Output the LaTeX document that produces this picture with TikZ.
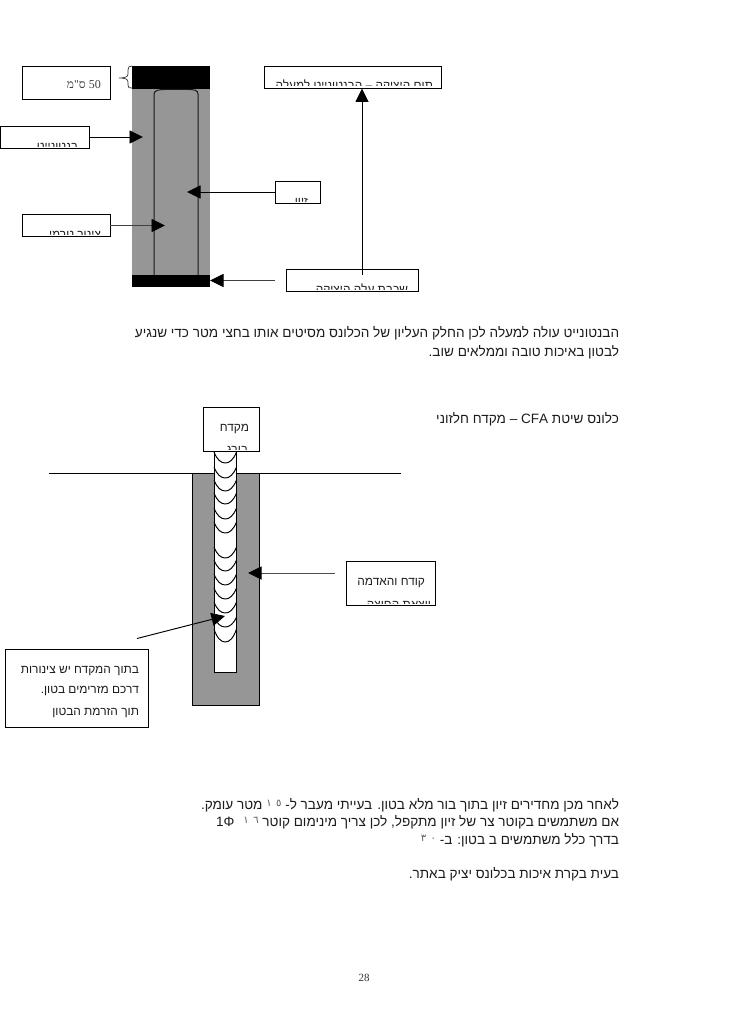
\documentclass[tikz,border=0pt]{standalone}
\usepackage{fontspec}
\usetikzlibrary{arrows.meta}
\TeXXeTstate=1
\setmainfont{Liberation Sans}
\newfontfamily\hebfont[Script=Hebrew]{Liberation Sans}
\newfontfamily\hebserif[Script=Hebrew]{Liberation Serif}
\newfontfamily\arabfont[Script=Arabic]{DejaVu Sans}
\newcommand{\adig}[2]{\beginL\raisebox{3pt}{\arabfont\fontsize{10}{11}\selectfont\textcolor{black!65}{#1\hspace{4.5pt}#2}}\endL}
% name, x1, y1, x2, y2
\newcommand{\tbox}[5]{\node[boxed,minimum width=#4-#2,minimum height=#5-#3] (#1) at ({(#2+#4)/2},{(#3+#5)/2}) {};}
% name, right, baseline, clip x1,y1,x2,y2, text
\newcommand{\cliptext}[8]{\begin{scope}\clip (#4,#5) rectangle (#6,#7);\node[lbl] (#1) at (#2,#3) {\hebfont #8};\end{scope}}
\definecolor{pile}{HTML}{969696}
\definecolor{inktxt}{HTML}{1c1c1c}
\tikzset{
  boxed/.style={draw=black,fill=white,line width=0.95pt,inner sep=0pt,rectangle},
  lbl/.style={anchor=base east,inner sep=0pt,outer sep=0pt,text=inktxt,font=\fontsize{11.9}{13}\selectfont},
  para/.style={anchor=base east,inner sep=0pt,outer sep=0pt,text=inktxt,font=\fontsize{13.55}{15}\selectfont},
  arrowline/.style={draw=black,line width=0.95pt,-{Triangle[length=13.5pt,width=13pt,color=black]}},
  wall/.style={draw=black!90,line width=1pt},
  screw/.style={draw=black,line width=0.95pt}
}
\begin{document}
\begin{tikzpicture}[x=1pt,y=-1pt]
\useasboundingbox (0,0) rectangle (728,1030);
\fill[white] (0,0) rectangle (728,1030);

% ---- upper pile
\fill[pile] (132,89) rectangle (210,275);
\fill[black] (132,66) rectangle (210,89);
\fill[black] (132,275) rectangle (210,287);
\draw[wall] (154,275) -- (154,94) .. controls (154,90) and (160,89.5) .. (165,89.5) -- (188,89.5) .. controls (194,89.5) and (198,90) .. (198,94) -- (198,275);
\draw[black!80,line width=0.7pt] (132,66) .. controls (129,66) and (128,67) .. (128,70) -- (128,74) .. controls (128,77) and (125,78) .. (119,78) .. controls (125,78) and (128,79) .. (128,82) -- (128,85) .. controls (128,88) and (129,88) .. (132,88);

\tbox{b50}{22}{66}{110}{99}
\node[anchor=base east,inner sep=0pt,text=black!75,font=\hebserif\fontsize{12}{14}\selectfont] (t50) at (101,89) {\beginR\beginL 50\endL\ ס"מ\endR};
\tbox{bbent}{0}{126}{89}{148}
\cliptext{tbent}{78}{150}{1}{127}{88}{146}{\beginR בנטונייט\endR}
\tbox{btrem}{22}{214}{110}{236}
\cliptext{ttrem}{101}{238.5}{23}{215}{109}{234}{\beginR צינור טרמי\endR}
\tbox{bzin}{275}{181}{320}{203}
\cliptext{tzin}{308}{205.5}{276}{182}{319}{201}{\beginR זיון\endR}
\tbox{btop}{264}{66}{441}{88}
\cliptext{ttop}{433}{89.5}{265}{67}{440}{86}{\beginR תום היציקה – הבנטונייט למעלה\endR}
\tbox{bbot}{286}{269}{418}{291}
\cliptext{tbot}{408}{293.5}{287}{270}{417}{289}{\beginR שכבת עלה היציקה\endR}

\coordinate (tipbent) at (143,137);
\coordinate (tiptrem) at (165,225.5);
\coordinate (tipzin) at (187,192);
\coordinate (tiptop) at (362,88.5);
\coordinate (startup) at (362,275);
\coordinate (tipbot) at (210,280.5);
\coordinate (startbot) at (275,280.5);
\draw[arrowline] (bbent.east |- tipbent) -- (tipbent);
\draw[arrowline,draw=black!75] (btrem.east |- tiptrem) -- (tiptrem);
\draw[arrowline] (bzin.west |- tipzin) -- (tipzin);
\draw[arrowline] (startup) -- (tiptop);
\draw[arrowline,draw=black!75] (startbot) -- (tipbot);

% ---- paragraph 1
\node[para] (p1a) at (619,337.5) {\hebfont\beginR הבנטונייט עולה למעלה לכן החלק העליון של הכלונס מסיטים אותו בחצי מטר כדי שנגיע\endR};
\node[para] (p1b) at (619,356) {\hebfont\beginR לבטון באיכות טובה וממלאים שוב.\endR};
\node[para] (p2) at (619,423) {\hebfont\beginR כלונס שיטת \beginL CFA\endL\ – מקדח חלזוני\endR};

% ---- CFA pile
\draw[black,line width=0.95pt] (49,473) -- (401,473);
\draw[draw=black,fill=pile,line width=0.95pt] (192,473) rectangle (259,705);
\draw[draw=black,fill=white,line width=0.95pt] (214,451) rectangle (236.5,672);
\foreach \t/\d in {452/11,467/11,480/11,493/11,508/11,522/11,547/11,560/11,574/11,588/11,602/11,617/10,629/13}
  \draw[screw] (214,\t) .. controls (217,{\t+\d*0.7}) and (221,{\t+\d}) .. (225.2,{\t+\d}) .. controls (229.5,{\t+\d}) and (233.5,{\t+\d*0.7}) .. (236.5,\t);

\tbox{bdrill}{203}{407}{259}{451}
\node[lbl] (tdrill) at (249,431) {\hebfont\beginR מקדח\endR};
\cliptext{tscrew}{248}{453.5}{204}{435}{258}{449}{\beginR בורג\endR}
\tbox{bsoil}{346}{561}{435}{605}
\node[lbl] (tsoil) at (425,585) {\hebfont\beginR קודח והאדמה\endR};
\cliptext{tout}{431}{608.5}{347}{590}{434}{603}{\beginR יוצאת החוצה\endR}
\tbox{bnote}{5}{649}{148}{727}
\node[lbl] (n1) at (139,673) {\hebfont\beginR בתוך המקדח יש צינורות\endR};
\node[lbl] (n2) at (139,693.5) {\hebfont\beginR דרכם מזרימים בטון.\endR};
\node[lbl] (n3) at (139,715) {\hebfont\beginR תוך הזרמת הבטון\endR};

\coordinate (soilstart) at (335,573);
\coordinate (soiltip) at (248,573);
\coordinate (pipestart) at (137,638.5);
\coordinate (pipetip) at (225,616);
\draw[arrowline,draw=black!70] (soilstart) -- (soiltip);
\draw[arrowline] (pipestart) -- (pipetip);

% ---- paragraph 2
\node[para] (p3) at (619,809) {\hebfont\beginR לאחר מכן מחדירים זיון בתוך בור מלא בטון. בעייתי מעבר ל- \adig{١}{٥} מטר עומק.\endR};
\node[para] (p4) at (619,826.5) {\hebfont\beginR אם משתמשים בקוטר צר של זיון מתקפל, לכן צריך מינימום קוטר \adig{١}{٦}\hspace{9pt}\beginL 1Φ\endL\endR};
\node[para] (p5) at (619,844) {\hebfont\beginR בדרך כלל משתמשים ב בטון: ב- \adig{٣}{٠}\endR};
\node[para] (p6) at (619,878) {\hebfont\beginR בעית בקרת איכות בכלונס יציק באתר.\endR};
\node[anchor=base,inner sep=0pt,text=black!80,font=\hebserif\fontsize{11}{13}\selectfont] (pg) at (364,981) {28};
\end{tikzpicture}
\end{document}
